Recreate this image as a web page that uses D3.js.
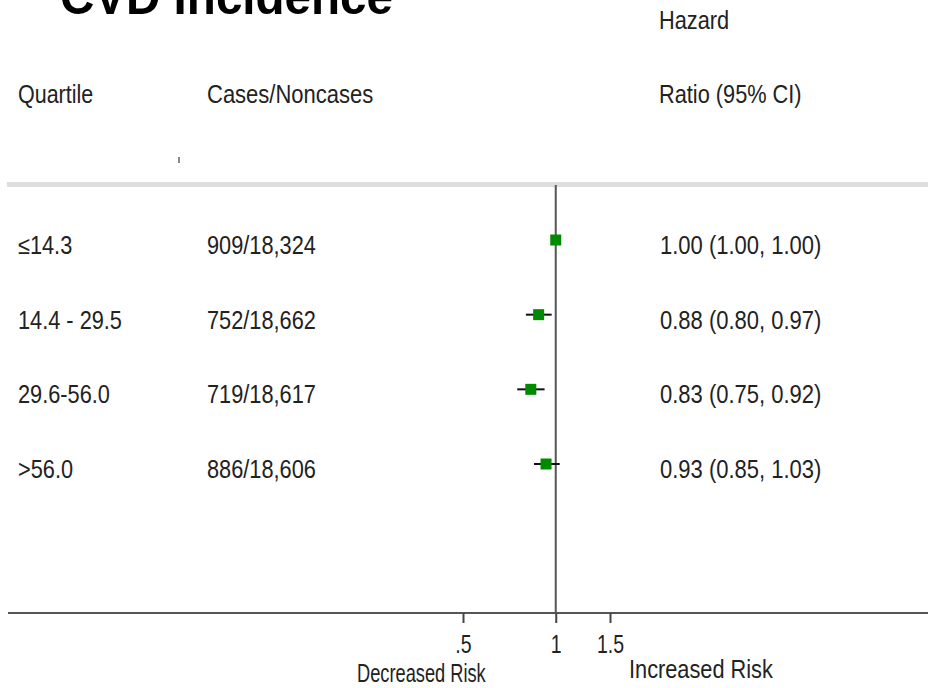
<!DOCTYPE html>
<html>
<head>
<meta charset="utf-8">
<script src="https://cdn.jsdelivr.net/npm/d3@7"></script>
<style>
  body { margin: 0; background: #fff; }
  svg { display: block; font-family: "Liberation Sans", Arial, sans-serif; }
  .txt { fill: #222; font-size: 25px; }
</style>
</head>
<body>
<div id="chart"></div>
<script>
// values
var quartiles = ["\u226414.3", "14.4 - 29.5", "29.6-56.0", ">56.0"];
var casesNoncases = ["909/18,324", "752/18,662", "719/18,617", "886/18,606"];
var hazard = [1.00, 0.88, 0.83, 0.93];
var ciLow = [1.00, 0.80, 0.75, 0.85];
var ciHigh = [1.00, 0.97, 0.92, 1.03];
var xTicks = [0.5, 1, 1.5];
var xTickLabels = [".5", "1", "1.5"];

var width = 928, height = 688;
var axisY = 613;

var svg = d3.select("#chart").append("svg")
    .attr("width", width)
    .attr("height", height);

//log scale, ratio 1 sits at x=555
var x = d3.scaleLog().domain([0.5, 1.5]).range([463, 610]);
var y = d3.scalePoint().domain(d3.range(quartiles.length)).range([240, 464]);

//text is a bit narrow in the picture, so squeeze it horizontally
function label(g, str, px, py, sx, cls) {
    return g.append("text")
        .attr("class", cls || "txt")
        .attr("transform", "translate(" + px + "," + py + ") scale(" + sx + ",1)")
        .text(str);
}

// title, cut off at the top edge
svg.append("text")
    .attr("x", 60)
    .attr("y", 14)
    .attr("textLength", 333)
    .attr("lengthAdjust", "spacingAndGlyphs")
    .style("font-size", "50px")
    .style("font-weight", "bold")
    .style("fill", "#000")
    .text("CVD Incidence");

// column headers
label(svg, "Quartile", 18, 103, 0.86);
label(svg, "Cases/Noncases", 207, 103, 0.88);
label(svg, "Hazard", 659, 29, 0.87);
label(svg, "Ratio (95% CI)", 659, 103, 0.87);

// stray little mark under the headers
svg.append("line")
    .attr("x1", 179).attr("x2", 179)
    .attr("y1", 157).attr("y2", 163)
    .attr("stroke", "#888")
    .attr("stroke-width", 2);

// light grey band under the headers
svg.append("rect")
    .attr("x", 7).attr("y", 182)
    .attr("width", width - 7).attr("height", 5)
    .attr("fill", "#dedede");

// reference line at HR = 1
svg.append("line")
    .attr("x1", x(1)).attr("x2", x(1))
    .attr("y1", 185).attr("y2", axisY)
    .attr("stroke", "#555")
    .attr("stroke-width", 2);

// rows of text
var rows = svg.append("g");
quartiles.forEach(function(q, i) {
    var by = y(i) + 14;
    label(rows, q, 18, by, 0.87);
    label(rows, casesNoncases[i], 207, by, 0.87);
    var txt = hazard[i].toFixed(2) + " (" + ciLow[i].toFixed(2) + ", " + ciHigh[i].toFixed(2) + ")";
    label(rows, txt, 660, by, 0.88);
});

// CI whiskers then square markers
var idx = d3.range(hazard.length);
svg.append("g").selectAll("line")
    .data(idx)
    .enter().append("line")
    .attr("x1", function(i) { return x(ciLow[i]); })
    .attr("x2", function(i) { return x(ciHigh[i]); })
    .attr("y1", function(i) { return y(i); })
    .attr("y2", function(i) { return y(i); })
    .attr("stroke", "#111")
    .attr("stroke-width", 2);

var sq = 11;
svg.append("g").selectAll("rect")
    .data(idx)
    .enter().append("rect")
    .attr("x", function(i) { return x(hazard[i]) - sq / 2; })
    .attr("y", function(i) { return y(i) - sq / 2; })
    .attr("width", sq)
    .attr("height", sq)
    .attr("fill", "#008a00");

// bottom axis, baseline runs across the whole page
svg.append("line")
    .attr("x1", 8).attr("x2", width)
    .attr("y1", axisY).attr("y2", axisY)
    .attr("stroke", "#555")
    .attr("stroke-width", 2);

var axis = svg.append("g")
    .attr("transform", "translate(0," + axisY + ")")
    .call(d3.axisBottom(x)
        .tickValues(xTicks)
        .tickSize(10)
        .tickFormat(function(d, i) { return xTickLabels[i]; }));

axis.select(".domain").remove();
axis.selectAll(".tick line")
    .attr("stroke", "#444")
    .attr("stroke-width", 2);
axis.selectAll(".tick text")
    .attr("y", 40)
    .attr("dy", null)
    .attr("transform", "scale(0.78,1)")
    .style("font-family", "Liberation Sans, Arial, sans-serif")
    .style("font-size", "25px")
    .style("fill", "#222");

label(svg, "Decreased Risk", 357, 682, 0.73);
label(svg, "Increased Risk", 629, 678, 0.87);
</script>
</body>
</html>
